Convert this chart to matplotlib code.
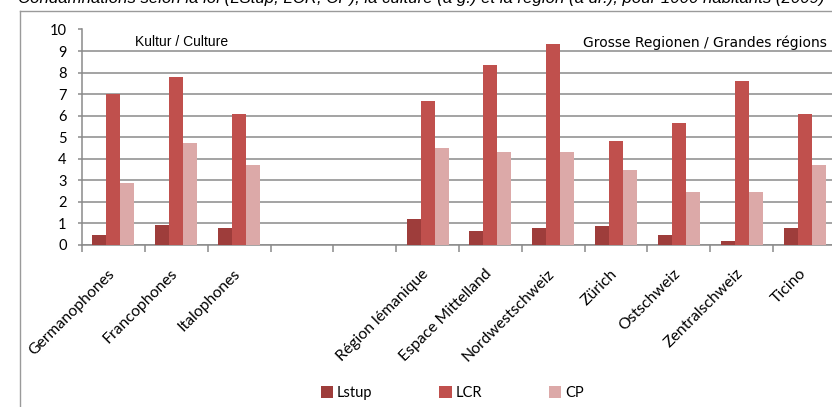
import matplotlib
matplotlib.use("Agg")
import matplotlib.pyplot as plt
import matplotlib.transforms as mtransforms
from matplotlib.lines import Line2D
import numpy as np

categories = ["Germanophones", "Francophones", "Italophones", "", "",
              "Région lémanique", "Espace Mittelland", "Nordwestschweiz",
              "Zürich", "Ostschweiz", "Zentralschweiz", "Ticino"]
lstup = [0.44, 0.92, 0.78, np.nan, np.nan, 1.19, 0.65, 0.78, 0.85, 0.44, 0.17, 0.78]
lcr = [6.98, 7.80, 6.06, np.nan, np.nan, 6.70, 8.37, 9.33, 4.82, 5.65, 7.60, 6.06]
cp = [2.87, 4.74, 3.71, np.nan, np.nan, 4.48, 4.33, 4.33, 3.49, 2.45, 2.45, 3.71]
series = [("Lstup", lstup, "#9e3d3b"), ("LCR", lcr, "#c0504d"), ("CP", cp, "#dca9a8")]
yticks = list(range(0, 11))

title = ("Condamnations selon la loi (LStup, LCR, CP), la culture (à g.) "
         "et la région (à dr.), pour 1000 habitants (2009)")

W, H = 832, 407
fig = plt.figure(figsize=(W / 100, H / 100), dpi=100)
ax = fig.add_axes([82 / W, 1 - 244.7 / H, 754 / W, (244.7 - 29.5) / H])

grey = "#8a8a8a"
x = np.arange(len(categories))
bw = 0.223
for k, (name, vals, col) in enumerate(series):
    ax.bar(x + (k - 1) * bw, vals, width=bw, color=col, label=name, zorder=3)

ax.set_xlim(-0.5, len(categories) - 0.5)
ax.set_ylim(0, 10)
ax.set_yticks(yticks)
ax.grid(axis="y", color=grey, lw=1.1, zorder=0)
ax.set_axisbelow(True)
for s in ["top", "right"]:
    ax.spines[s].set_visible(False)
for s in ["left", "bottom"]:
    ax.spines[s].set_color(grey)
    ax.spines[s].set_linewidth(1.1)

ax.tick_params(axis="y", length=3, color=grey, width=1.1, pad=8,
               labelsize=10.5, labelfontfamily="Lato")
ax.set_xticks(x)
ax.set_xticklabels([])
ax.tick_params(axis="x", which="major", length=0)
ax.set_xticks(np.arange(-0.5, len(categories) + 0.5, 1), minor=True)
ax.tick_params(axis="x", which="minor", length=5, color=grey, width=1.1)

off = mtransforms.ScaledTranslation(-6 / 100, -22 / 100, fig.dpi_scale_trans)
for i, lab in enumerate(categories):
    ax.text(i, 0, lab, transform=ax.get_xaxis_transform() + off,
            rotation=45, rotation_mode="anchor", ha="right", va="top",
            fontsize=11.3, family="Lato")

ax.text(135 / W, 1 - 41.7 / H, "Kultur / Culture", transform=fig.transFigure,
        ha="left", va="center", fontsize=10, family="Liberation Sans")
ax.text(827 / W, 1 - 42.7 / H, "Grosse Regionen / Grandes régions",
        transform=fig.transFigure, ha="right", va="center", fontsize=10,
        family="Liberation Sans Narrow")

fig.text(18 / W, 1 - 2.5 / H, title, ha="left", va="baseline", fontsize=12.1,
         style="italic", family="Liberation Sans")

fig.add_artist(Line2D([20 / W, 20 / W], [0, 1 - 10.5 / H], color="#9a9a9a",
                      lw=1, transform=fig.transFigure))
fig.add_artist(Line2D([20 / W, 1], [1 - 10.5 / H, 1 - 10.5 / H], color="#9a9a9a",
                      lw=1, transform=fig.transFigure))

fig.legend(loc="center", bbox_to_anchor=(452 / W, 1 - 393 / H), ncol=3,
           frameon=False, handlelength=0.85, handleheight=0.85,
           handletextpad=0.25, columnspacing=4.6,
           prop={"family": "Lato", "size": 10.5})

fig.savefig("out.png", dpi=100)
